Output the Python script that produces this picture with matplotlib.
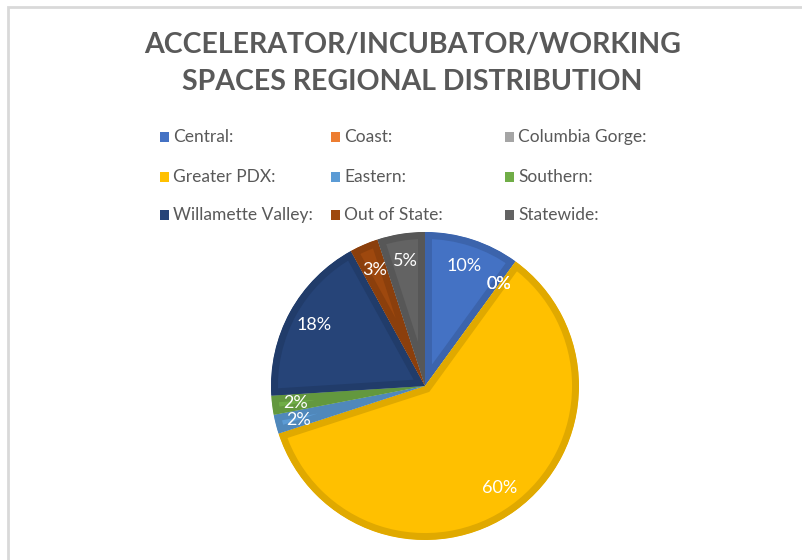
import matplotlib.pyplot as plt
from matplotlib.patches import Rectangle
from matplotlib.colors import to_rgb

regions = ["Central:", "Coast:", "Columbia Gorge:", "Greater PDX:", "Eastern:",
           "Southern:", "Willamette Valley:", "Out of State:", "Statewide:"]
shares = [10, 0, 0, 60, 2, 2, 18, 3, 5]
colores = ["#4472C4", "#ED7D31", "#A5A5A5", "#FFC000", "#5B9BD5",
           "#70AD47", "#264478", "#9E480E", "#636363"]

plt.rcParams['font.family'] = ['Lato', 'DejaVu Sans']

fig = plt.figure(figsize=(8.02, 5.6), dpi=100)
W, H = 802, 560

# marco gris del grafico (recortado a la derecha y abajo)
fig.patches.append(Rectangle((8 / W, -0.1), 1.2, (H - 7) / H + 0.1,
                             transform=fig.transFigure, fill=False,
                             edgecolor="#D9D9D9", linewidth=2))

fig.text(0.514, 1 - 45 / H, "ACCELERATOR/INCUBATOR/WORKING", ha="center", va="center",
         fontsize=20.5, fontweight="bold", color="#595959")
fig.text(0.514, 1 - 82 / H, "SPACES REGIONAL DISTRIBUTION", ha="center", va="center",
         fontsize=20.5, fontweight="bold", color="#595959")

# pie: centro (425, 386), radio ~153 px
r = 154
ax = fig.add_axes([(425 - r) / W, 1 - (386 + r) / H, 2 * r / W, 2 * r / H])
bordes = [tuple(c * 0.88 for c in to_rgb(col)) for col in colores]
wedges, texts, autotexts = ax.pie(
    shares, colors=colores, startangle=90, counterclock=False,
    autopct="%1.0f%%", pctdistance=0.82, radius=1.0,
    textprops=dict(color="white", fontsize=13))
for w, b, v in zip(wedges, bordes, shares):
    # borde interior mas oscuro, estilo Excel
    w.set_edgecolor(b)
    w.set_linewidth(10 if v > 0 else 0)
    w.set_clip_on(True)
    w.set_clip_path(w)
# ajustes de las etiquetas pequenas
autotexts[4].set_position((-0.82, -0.22))
autotexts[5].set_position((-0.84, -0.11))
ax.set_xlim(-1, 1)
ax.set_ylim(-1, 1)
ax.set_aspect("equal")

# leyenda en 3 columnas
xs = [160, 331, 505]
ys = [137, 177, 215]
for i, (nombre, col) in enumerate(zip(regions, colores)):
    x = xs[i % 3]
    y = ys[i // 3]
    fig.patches.append(Rectangle((x / W, 1 - (y + 5) / H), 9 / W, 10 / H,
                                 transform=fig.transFigure, facecolor=col,
                                 edgecolor="none"))
    fig.text((x + 13) / W, 1 - y / H, nombre, ha="left", va="center",
             fontsize=12.5, color="#595959")

plt.savefig("out.png", dpi=100)
